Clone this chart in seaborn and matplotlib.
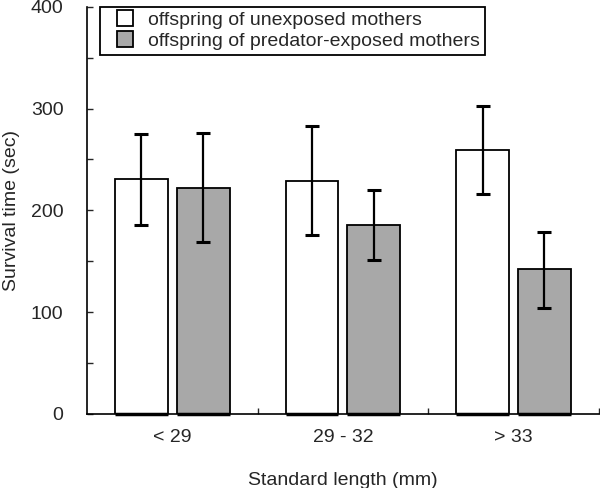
import matplotlib
matplotlib.use("Agg")
import matplotlib.pyplot as plt
import seaborn as sns
import pandas as pd
import numpy as np
from matplotlib.ticker import MultipleLocator, FixedLocator
from matplotlib.lines import Line2D

# data
size_classes = ["< 29", "29 - 32", "> 33"]
groups = ["offspring of unexposed mothers", "offspring of predator-exposed mothers"]
unexposed_mean = [231, 229, 259]
unexposed_lo = [186, 176, 216]
unexposed_hi = [275, 283, 303]
exposed_mean = [222, 186, 142]
exposed_lo = [169, 151, 104]
exposed_hi = [276, 220, 179]
colors = ["white", "#a8a8a8"]

df = pd.DataFrame({
    "size": size_classes * 2,
    "group": [groups[0]] * 3 + [groups[1]] * 3,
    "time": unexposed_mean + exposed_mean,
    "lo": unexposed_lo + exposed_lo,
    "hi": unexposed_hi + exposed_hi,
})

sns.set_style("white")
plt.rcParams["font.family"] = ["Liberation Sans", "DejaVu Sans"]

fig = plt.figure(figsize=(6, 4.88), dpi=100)
ax = fig.add_axes([0.145, 0.152, 0.853, 0.834])

sns.barplot(data=df, x="size", y="time", hue="group", order=size_classes,
            hue_order=groups, palette=colors, width=0.725, gap=0.145,
            edgecolor="black", linewidth=1.3, errorbar=None, legend=False, ax=ax)

# error bars at bar centres
for cont, g in zip(ax.containers, groups):
    sub = df[df["group"] == g].set_index("size").loc[size_classes]
    xs = [p.get_x() + p.get_width() / 2 for p in cont.patches]
    m = sub["time"].values
    yerr = np.vstack([m - sub["lo"].values, sub["hi"].values - m])
    ax.errorbar(xs, m, yerr=yerr, fmt="none", ecolor="black", elinewidth=1.6,
                capsize=5, capthick=2.2)
    # dark base line under each bar
    for p in cont.patches:
        ax.plot([p.get_x(), p.get_x() + p.get_width()], [0, 0], color="black",
                lw=2.5, solid_capstyle="butt", clip_on=False)

ax.set_xlim(-0.5, 2.5)
ax.set_ylim(0, 400)
ax.yaxis.set_major_locator(MultipleLocator(100))
ax.yaxis.set_minor_locator(MultipleLocator(50))
ax.xaxis.set_minor_locator(FixedLocator([0.5, 1.5, 2.5]))
ax.tick_params(axis="y", which="both", direction="in", left=True, length=4, width=1, labelsize=14, pad=17)
ax.tick_params(axis="x", which="major", length=0, labelsize=14, pad=11)
ax.tick_params(axis="x", which="minor", direction="in", bottom=True, length=4, width=1)
for s in ["top", "right"]:
    ax.spines[s].set_visible(False)
for s in ["left", "bottom"]:
    ax.spines[s].set_color("black")
    ax.spines[s].set_linewidth(1.2)

ax.set_xlabel("Standard length (mm)", fontsize=14, labelpad=19)
ax.set_ylabel("Survival time (sec)", fontsize=14, labelpad=8)

handles = [Line2D([], [], ls="none", marker="s", markersize=11.5, markerfacecolor=c,
                  markeredgecolor="black", markeredgewidth=1.3) for c in colors]
leg = ax.legend(handles, groups, loc="upper left", bbox_to_anchor=(0.025, 1.0), fontsize=14,
                frameon=True, fancybox=False, edgecolor="black", framealpha=1,
                borderaxespad=0, handlelength=2.1, borderpad=0.25,
                labelspacing=0.15, handletextpad=0.15)
leg.get_frame().set_linewidth(1.3)

fig.savefig("out.png", dpi=100)
